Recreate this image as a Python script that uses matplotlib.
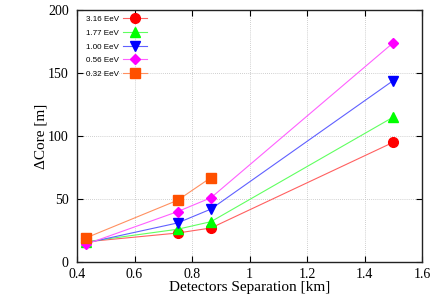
import matplotlib
matplotlib.use("Agg")
import matplotlib.pyplot as plt

sep_all = [0.43, 0.75, 0.866, 1.5]
sep_low = [0.43, 0.75, 0.866]

labels = ["3.16 EeV", "1.77 EeV", "1.00 EeV", "0.56 EeV", "0.32 EeV"]
core_316 = [16, 23, 27, 95]
core_177 = [16, 26, 32, 115]
core_100 = [15, 31, 42, 144]
core_056 = [14, 40, 51, 174]
core_032 = [19, 49, 67]

series = [
    (sep_all, core_316, "o", "#ff0000", "#ff6060"),
    (sep_all, core_177, "^", "#00ff00", "#60ff60"),
    (sep_all, core_100, "v", "#0000ff", "#6060ff"),
    (sep_all, core_056, "D", "#ff00ff", "#ff60ff"),
    (sep_low, core_032, "s", "#ff5000", "#ff9060"),
]
msizes = [7, 7, 7, 5.5, 6.5]

fig = plt.figure(figsize=(4.36, 3.05), dpi=100)
ax = fig.add_axes([77/436, 43/305, 345/436, 252/305])

for (x, y, m, c, lc), lab, ms in zip(series, labels, msizes):
    ax.plot(x, y, color=lc, lw=0.8, marker=m, markersize=ms,
            markerfacecolor=c, markeredgecolor=c, label=lab)

ax.set_xlim(0.4, 1.6)
ax.set_ylim(0, 200)
ax.set_xticks([0.4, 0.6, 0.8, 1.0, 1.2, 1.4, 1.6])
ax.set_xticklabels(["0.4", "0.6", "0.8", "1", "1.2", "1.4", "1.6"])
ax.set_yticks([0, 50, 100, 150, 200])
ax.grid(True, color="#c0c0c0", linestyle=(0, (1, 1.5)), linewidth=0.6)
ax.tick_params(direction="in", top=True, right=True, length=4, width=0.8,
               labelsize=10)
ax.tick_params(axis="x", pad=4)
ax.tick_params(axis="y", pad=6)
for lab in ax.get_xticklabels() + ax.get_yticklabels():
    lab.set_fontfamily("Liberation Serif")
for s in ax.spines.values():
    s.set_linewidth(1.0)
    s.set_color("#222222")

ax.set_xlabel("Detectors Separation [km]", fontfamily="Liberation Serif",
              fontsize=11, labelpad=0)
ax.set_ylabel("ΔCore [m]", fontfamily="Liberation Serif", fontsize=11,
              labelpad=0)

leg = ax.legend(loc="upper left", markerfirst=False, frameon=False,
                prop={"family": "Liberation Sans", "size": 5.8},
                handlelength=3.0, labelspacing=0.75, borderaxespad=0.3,
                handletextpad=0.5, bbox_to_anchor=(0.01, 1.0))

fig.savefig("out.png", dpi=100)
